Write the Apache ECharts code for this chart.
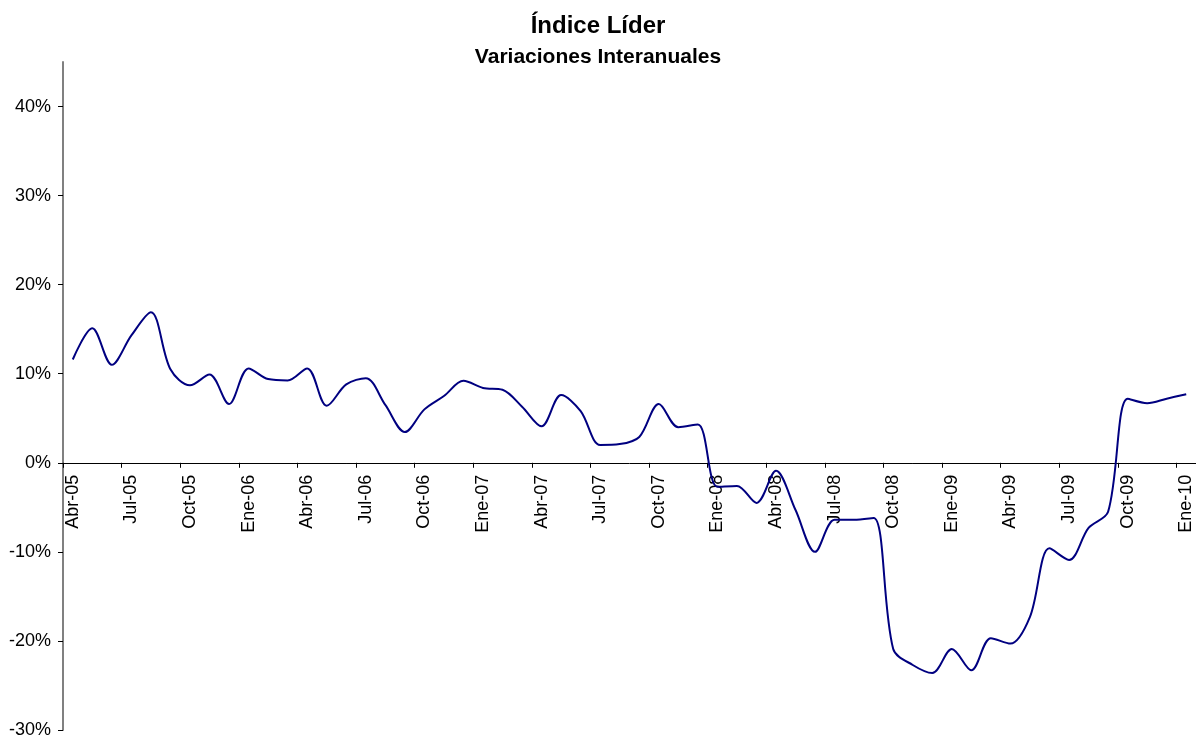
<!DOCTYPE html>
<html lang="es">
<head>
<meta charset="UTF-8">
<title>Índice Líder</title>
<script src="https://cdn.jsdelivr.net/npm/echarts@6/dist/echarts.min.js"></script>
<style>
  html, body { margin: 0; padding: 0; background: #fff; }
  #chart { width: 1196px; height: 740px; }
</style>
</head>
<body>
<div id="chart"></div>
<script>
// meses, Abr-05 .. Ene-10
var meses = [
  'Abr-05','May-05','Jun-05','Jul-05','Ago-05','Sep-05','Oct-05','Nov-05','Dic-05',
  'Ene-06','Feb-06','Mar-06','Abr-06','May-06','Jun-06','Jul-06','Ago-06','Sep-06','Oct-06','Nov-06','Dic-06',
  'Ene-07','Feb-07','Mar-07','Abr-07','May-07','Jun-07','Jul-07','Ago-07','Sep-07','Oct-07','Nov-07','Dic-07',
  'Ene-08','Feb-08','Mar-08','Abr-08','May-08','Jun-08','Jul-08','Ago-08','Sep-08','Oct-08','Nov-08','Dic-08',
  'Ene-09','Feb-09','Mar-09','Abr-09','May-09','Jun-09','Jul-09','Ago-09','Sep-09','Oct-09','Nov-09','Dic-09',
  'Ene-10'
];

// variacion interanual, %
var variacion = [
  11.6, 15.1, 11.0, 14.3, 16.9, 10.5, 8.7, 9.9, 6.6,
  10.6, 9.4, 9.25, 10.6, 6.4, 8.8, 9.5, 6.5, 3.45, 6.0, 7.5, 9.2,
  8.4, 8.2, 6.3, 4.1, 7.6, 5.8, 2.0, 2.1, 2.9, 6.6, 4.0, 4.3,
  -2.7, -2.6, -4.5, -0.9, -5.3, -10.0, -6.4, -6.4, -6.2, -20.9, -22.7, -23.6,
  -20.9, -23.3, -19.7, -20.3, -17.3, -9.6, -10.9, -7.3, -5.5, 7.2, 6.7, 7.2,
  7.7
];

var yTicks = [-30, -20, -10, 0, 10, 20, 30, 40];
var yMin = -30, yMax = 45;

var gridTop = 62, gridBottom = 10, chartH = 740;
// distance of the 0% line above the plot bottom, so the x axis can sit on it
var plotH = chartH - gridTop - gridBottom;
var zeroOffset = plotH * (0 - yMin) / (yMax - yMin);

var chart = echarts.init(document.getElementById('chart'));

var option = {
  animation: false,
  title: {
    text: 'Índice Líder',
    subtext: 'Variaciones Interanuales',
    left: 'center',
    top: 9,
    itemGap: 9,
    textStyle: {
      fontFamily: 'Liberation Sans, Arial',
      fontSize: 24,
      fontWeight: 'bold',
      color: '#000'
    },
    subtextStyle: {
      fontFamily: 'Liberation Sans, Arial',
      fontSize: 21,
      fontWeight: 'bold',
      color: '#000'
    }
  },
  grid: {
    left: 63,
    right: 0,
    top: gridTop,
    bottom: gridBottom,
    containLabel: false,
    outerBoundsMode: 'none'
  },
  xAxis: {
    type: 'category',
    data: meses,
    boundaryGap: true,
    position: 'bottom',
    offset: -zeroOffset,
    axisLine: { show: true, onZero: false, lineStyle: { color: '#000', width: 1 } },
    axisTick: { show: true, interval: 2, length: 5, lineStyle: { color: '#000' } },
    axisLabel: {
      show: true,
      interval: 2,
      rotate: 90,
      margin: 12,
      fontFamily: 'Liberation Sans, Arial',
      fontSize: 18,
      color: '#000'
    },
    splitLine: { show: false }
  },
  yAxis: {
    type: 'value',
    min: yMin,
    max: yMax,
    interval: 10,
    axisLine: { show: true, lineStyle: { color: '#808080', width: 2 } },
    axisTick: { show: true, length: 5, customValues: yTicks, lineStyle: { color: '#000' } },
    axisLabel: {
      customValues: yTicks,
      margin: 12,
      fontFamily: 'Liberation Sans, Arial',
      fontSize: 18,
      color: '#000',
      formatter: function (v) { return v + '%'; }
    },
    splitLine: { show: false }
  },
  series: [{
    name: 'Índice Líder',
    type: 'line',
    data: variacion,
    smooth: 0.33,
    symbol: 'none',
    lineStyle: { color: '#000080', width: 2 }
  }]
};

chart.setOption(option);
</script>
</body>
</html>
